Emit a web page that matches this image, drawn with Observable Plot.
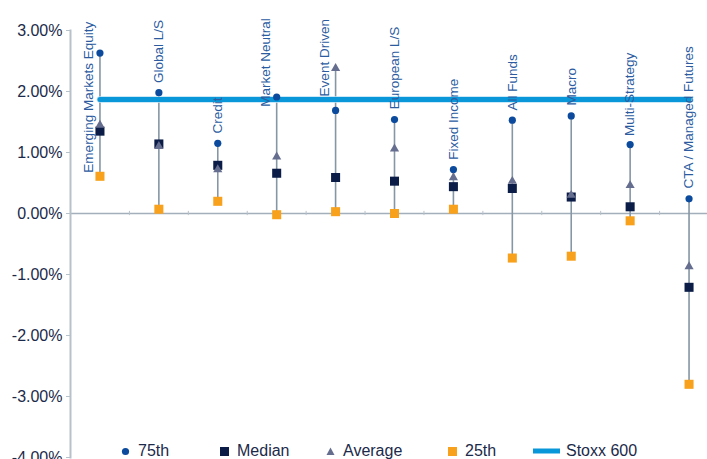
<!DOCTYPE html>
<html><head><meta charset="utf-8">
<script src="https://cdn.jsdelivr.net/npm/d3@7"></script>
<script src="https://cdn.jsdelivr.net/npm/@observablehq/plot@0.6"></script>
<style>
body{margin:0;background:#fff;font-family:"Liberation Sans",Arial,Helvetica,sans-serif}
#wrap{position:relative;width:707px;height:459px;overflow:hidden}
#wrap svg{display:block}
.lg{position:absolute;top:441px;height:20px;display:flex;align-items:center;font-size:16px;color:#1b2a4a;white-space:nowrap}
.lg svg{margin-right:6px}
</style></head><body>
<div id="wrap"></div>
<script>
const categories = ["Emerging Markets Equity","Global L/S","Credit","Market Neutral","Event Driven","European L/S","Fixed Income","All Funds","Macro","Multi-Strategy","CTA / Managed Futures"];
const p75     = [2.63, 1.98, 1.15, 1.91, 1.69, 1.54, 0.72, 1.53, 1.60, 1.13, 0.24];
const median  = [1.35, 1.14, 0.79, 0.66, 0.59, 0.53, 0.44, 0.41, 0.27, 0.11, -1.21];
const average = [1.45, 1.10, 0.72, 0.93, 2.38, 1.06, 0.59, 0.53, 0.30, 0.46, -0.87];
const p25     = [0.61, 0.07, 0.20, -0.02, 0.03, 0.00, 0.07, -0.73, -0.70, -0.12, -2.80];
const stoxx600 = 1.87;
// value at which each category label starts, and whether it sits beside the whisker
const labelBase   = [0.67, 2.14, 1.31, 1.75, 1.92, 1.71, 0.88, 1.69, 1.77, 1.27, 0.41];
const labelBeside = [true, false, false, true, true, false, false, false, false, false, false];
const yTicks = [3, 2, 1, 0, -1, -2, -3, -4];
const legendItems = ["75th", "Median", "Average", "25th", "Stoxx 600"];

const rows = categories.map((c, i) => ({
  c, p75: p75[i], med: median[i], avg: average[i], p25: p25[i],
  lo: Math.min(p75[i], median[i], average[i], p25[i]),
  hi: Math.max(p75[i], median[i], average[i], p25[i]),
  lb: labelBase[i], side: labelBeside[i]
}));
const stoxxRows = [{c: categories[0], v: stoxx600}, {c: categories[categories.length - 1], v: stoxx600}];

const W = 707, ML = 70, MR = -11;
const halfStep = (W - ML - MR) / categories.length / 2;
const fmt = d => d.toFixed(2) + "%";
const labelStyle = {x: "c", y: "lb", text: "c", rotate: -90, textAnchor: "start", lineAnchor: "middle", fontSize: 13.5, fill: "#2c5c9f"};
const chart = Plot.plot({
  width: W, height: 459,
  marginTop: 30, marginBottom: 2, marginLeft: ML, marginRight: MR,
  style: {fontFamily: '"Liberation Sans", Arial, sans-serif', background: "#fff", overflow: "visible"},
  x: {type: "point", domain: categories, padding: 0.5, round: false, axis: null},
  y: {domain: [-4, 3], axis: null},
  marks: [
    Plot.ruleY([0], {stroke: "#a3afba", strokeWidth: 1.3}),
    Plot.ruleX(categories.slice(0, -1), {x: d => d, y1: -0.035, y2: 0.035, dx: halfStep, stroke: "#b6c1ca", strokeWidth: 1}),
    Plot.frame({anchor: "left", stroke: "#b6c1ca", strokeWidth: 2}),
    Plot.axisY({ticks: yTicks, tickFormat: fmt, tickSize: 4, tickPadding: 4, fontSize: 16, stroke: "#b6c1ca", fill: "#1b2a4a"}),
    Plot.ruleX(rows, {x: "c", y1: "lo", y2: "hi", stroke: "#8596a4", strokeWidth: 1.6}),
    Plot.line(stoxxRows, {x: "c", y: "v", stroke: "#b9e1f4", strokeWidth: 6.5}),
    Plot.line(stoxxRows, {x: "c", y: "v", stroke: "#0a97d9", strokeWidth: 5}),
    Plot.dot(rows, {x: "c", y: "p75", r: 3.6, fill: "#0b4a9c", symbol: "circle"}),
    Plot.dot(rows, {x: "c", y: "med", r: 5.1, fill: "#0b1c47", symbol: "square"}),
    Plot.dot(rows, {x: "c", y: "avg", r: 3.4, fill: "#666e8f", symbol: "triangle"}),
    Plot.dot(rows, {x: "c", y: "p25", r: 5.1, fill: "#f7a11c", symbol: "square"}),
    Plot.text(rows.filter(d => !d.side), labelStyle),
    Plot.text(rows.filter(d => d.side), {...labelStyle, dx: -11})
  ]
});
const wrap = document.getElementById("wrap");
wrap.appendChild(chart);

const markers = [
  '<svg width="9" height="9"><circle cx="4.5" cy="4.5" r="3.6" fill="#0b4a9c"/></svg>',
  '<svg width="9" height="9"><rect x="0" y="0" width="9" height="9" fill="#0b1c47"/></svg>',
  '<svg width="9" height="9"><path d="M4.5,0.5L8.5,8L0.5,8Z" fill="#666e8f"/></svg>',
  '<svg width="9" height="9"><rect x="0" y="0" width="9" height="9" fill="#f7a11c"/></svg>',
  '<svg width="27" height="6"><rect x="0" y="0.5" width="27" height="5" fill="#0a97d9"/></svg>'
];
const lefts = [121, 220, 326, 448, 533];
legendItems.forEach((t, i) => {
  const d = document.createElement("div");
  d.className = "lg";
  d.style.left = lefts[i] + "px";
  d.innerHTML = markers[i] + "<span>" + t + "</span>";
  if (i < 4) d.querySelector("svg").style.marginRight = "8px";
  wrap.appendChild(d);
});
</script>
</body></html>
